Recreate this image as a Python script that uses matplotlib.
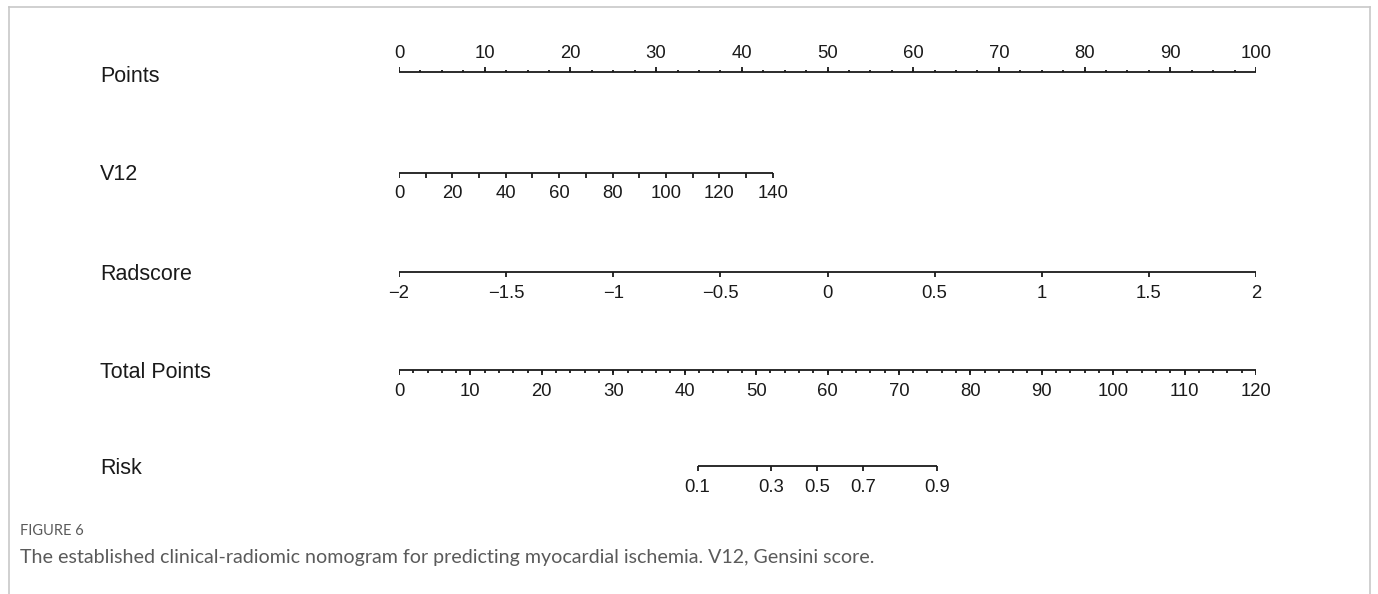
import matplotlib
matplotlib.use("Agg")
import matplotlib.pyplot as plt
import numpy as np

# ---- data ----
row_names = ["Points", "V12", "Radscore", "Total Points", "Risk"]

points_major = [0, 10, 20, 30, 40, 50, 60, 70, 80, 90, 100]
points_minor_step = 2.5

v12_ticks = [0, 10, 20, 30, 40, 50, 60, 70, 80, 90, 100, 110, 120, 130, 140]
v12_labels = [0, 20, 40, 60, 80, 100, 120, 140]
v12_points_at_max = 43.6      # points given for V12 = 140

rad_ticks = [-2, -1.5, -1, -0.5, 0, 0.5, 1, 1.5, 2]
rad_labels = ["\u22122", "\u22121.5", "\u22121", "\u22120.5", "0", "0.5", "1", "1.5", "2"]

total_major = [0, 10, 20, 30, 40, 50, 60, 70, 80, 90, 100, 110, 120]
total_minor_step = 2

risk_labels = ["0.1", "0.3", "0.5", "0.7", "0.9"]
risk_total_points = [41.8, 52.1, 58.5, 65.0, 75.3]   # total points where each risk sits

caption_head = "FIGURE 6"
caption_text = "The established clinical-radiomic nomogram for predicting myocardial ischemia. V12, Gensini score."

# ---- layout ----
W, H = 1378, 594
fig = plt.figure(figsize=(W / 100, H / 100), dpi=100)
fig.patch.set_facecolor("white")

x0, x1 = 399, 1256
ax = fig.add_axes([x0 / W, 0, (x1 - x0) / W, 1])
ax.set_xlim(0, 100)
ax.set_ylim(H, 0)
ax.axis("off")

row_y = [72, 173, 272, 370, 466]
label_x = 100
lab_font = "Liberation Sans"
col = "#1a1a1a"
tick_fs = 13.3
lw = 1.3


def x_label_px(px):
    return (px - x0) / (x1 - x0) * 100


def draw_axis(y, pos, major_pos, labels, up=False, minor_pos=None, tl=5, ml=2.5):
    ax.plot([min(pos), max(pos)], [y, y], color=col, lw=lw, solid_capstyle="butt")
    d = -1 if up else 1
    ax.vlines(major_pos, y, y + d * tl, color=col, lw=lw)
    if minor_pos is not None:
        ax.vlines(minor_pos, y, y + d * ml, color=col, lw=lw)
    ty = y - 19 if up else y + 21
    for p, s in zip(labels[0], labels[1]):
        ax.text(p, ty, s, ha="center", va="center", fontsize=tick_fs,
                family=lab_font, color=col)


# row names
for name, y in zip(row_names, row_y):
    ax.text(x_label_px(label_x), y + (5 if name == "Points" else 2), name,
            ha="left", va="center", fontsize=15.5, family=lab_font, color=col)

# Points
pm = np.arange(0, 100 + 1e-9, points_minor_step)
draw_axis(row_y[0], points_major, points_major,
          (points_major, [str(v) for v in points_major]), up=True, minor_pos=pm, tl=5, ml=2.5)

# V12
v12_pos = [v / 140 * v12_points_at_max for v in v12_ticks]
v12_lpos = [v / 140 * v12_points_at_max for v in v12_labels]
draw_axis(row_y[1], v12_pos, v12_pos, (v12_lpos, [str(v) for v in v12_labels]), tl=5)

# Radscore
rad_pos = [(v + 2) / 4 * 100 for v in rad_ticks]
draw_axis(row_y[2], rad_pos, rad_pos, (rad_pos, rad_labels), tl=5)

# Total Points
tot_pos = [v / 120 * 100 for v in total_major]
tot_minor = [v / 120 * 100 for v in np.arange(0, 120 + 1e-9, total_minor_step)]
draw_axis(row_y[3], tot_pos, tot_pos, (tot_pos, [str(v) for v in total_major]),
          minor_pos=tot_minor, tl=5, ml=2.5)

# Risk
risk_pos = [v / 120 * 100 for v in risk_total_points]
draw_axis(row_y[4], risk_pos, risk_pos, (risk_pos, risk_labels), tl=5)

# border and caption
fig.add_artist(plt.Line2D([9 / W, 9 / W], [0, 1 - 7 / H], transform=fig.transFigure,
                          color="#c8c8c8", lw=1.2))
fig.add_artist(plt.Line2D([9 / W, 1370 / W], [1 - 7 / H, 1 - 7 / H], transform=fig.transFigure,
                          color="#c8c8c8", lw=1.2))
fig.add_artist(plt.Line2D([1370 / W, 1370 / W], [0, 1 - 7 / H], transform=fig.transFigure,
                          color="#c8c8c8", lw=1.2))

fig.text(20 / W, 1 - 531 / H, caption_head, ha="left", va="center", fontsize=10.5,
         family="Lato", color="#5a5a5a")
fig.text(20 / W, 1 - 557 / H, caption_text, ha="left", va="center", fontsize=14.1,
         family="Lato", color="#5a5a5a")

fig.savefig("out.png", dpi=100, facecolor="white")
